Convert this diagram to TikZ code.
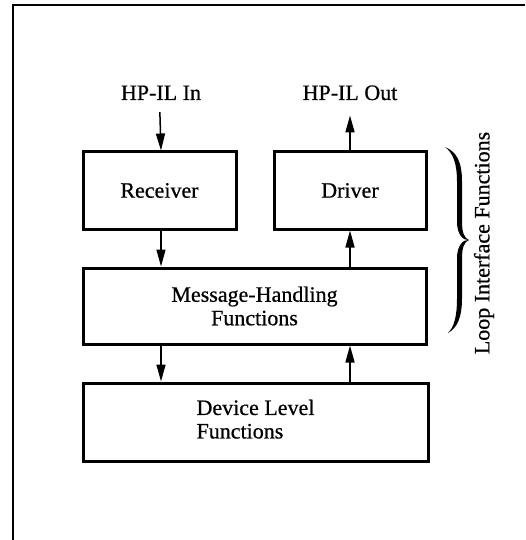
\documentclass[tikz,border=0pt]{standalone}
\usepackage{fontspec}
\setmainfont{Liberation Serif}[FakeBold=0.6]
\usetikzlibrary{arrows.meta}
\begin{document}
\begin{tikzpicture}[x=1pt,y=-1pt,
  every node/.style={font=\fontsize{22}{23.5}\selectfont},
  blk/.style={draw,line width=3pt,inner sep=0pt},
  arr/.style={line width=1.5pt,-{Triangle[length=17pt,width=9pt]}},
  lbl/.style={inner sep=0pt}]
\useasboundingbox (0,0) rectangle (525,540);
% frame
\draw[line width=2.4pt] (13,540) -- (13,5) -- (525,5);
% boxes
\node[blk,minimum width=153pt,minimum height=77pt] (rec) at (159.5,190.5) {Receiver};
\node[blk,minimum width=152pt,minimum height=77pt] (drv) at (350,190.5) {Driver};
\node[blk,minimum width=343pt,minimum height=76pt,align=center] (msg) at (254.5,306) {Message-Handling\\Functions};
\node[blk,minimum width=345pt,minimum height=78pt] (dev) at (255.5,422)
  {\begin{tabular}{@{}l@{}}Device Level\\Functions\end{tabular}};
% labels
\node[lbl,anchor=base] (inl) at (161,100) {HP-IL In};
\node[lbl,anchor=base] (outl) at (350,100) {HP-IL Out};
\node[lbl,rotate=90] (loop) at (484,243) {Loop Interface Functions};
% connectors
\draw[arr,shorten <=12pt] (inl.south -| rec.south) -- (rec.north -| inl.south);
\draw[arr,shorten >=15pt] (drv.north) -- (outl.south -| drv.north);
\draw[arr] (rec.south -| inl.south) -- (msg.north -| inl.south);
\draw[arr] (msg.north -| drv.north) -- (drv.south);
\draw[arr] (msg.south -| inl.south) -- (dev.north -| inl.south);
\draw[arr] (dev.north -| drv.north) -- (msg.south -| drv.north);
% brace
\fill (445,147) .. controls (457,152) and (462,162) .. (462,182) -- (462,222)
  .. controls (462,232) and (464,238) .. (469,240)
  .. controls (463,241) and (457,234) .. (457,222) -- (457,182)
  .. controls (457,163) and (453,153) .. (445,147) -- cycle;
\fill (448,333) .. controls (457,328) and (462,318) .. (462,298) -- (462,258)
  .. controls (462,248) and (464,242) .. (469,240)
  .. controls (463,239) and (457,246) .. (457,258) -- (457,298)
  .. controls (457,317) and (454,327) .. (448,333) -- cycle;
\end{tikzpicture}
\end{document}
